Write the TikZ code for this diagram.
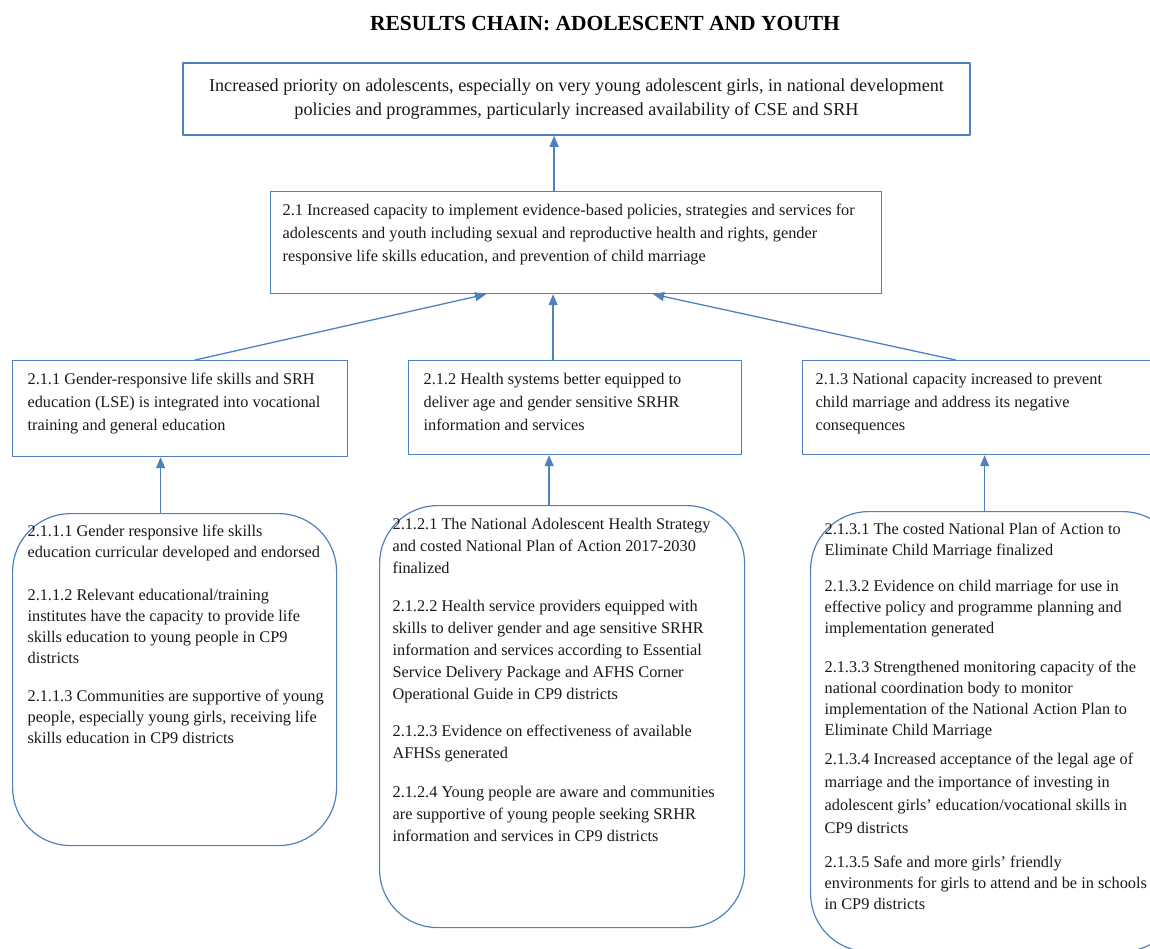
\documentclass[tikz,border=0pt]{standalone}
\usepackage{fontspec}
\setmainfont{Liberation Serif}
\usetikzlibrary{arrows.meta}

\definecolor{boxblue}{RGB}{79,129,189}
\definecolor{txtgray}{RGB}{25,25,25}

% text block of a box: height, width, lines
\newcommand{\tbox}[3]{\parbox[t][#1][t]{#2}{\begin{tabular}[t]{@{}l@{}}#3\end{tabular}}}

\begin{document}
\begin{tikzpicture}[x=1pt, y=-1pt, line cap=round, line join=round, >=Triangle,
	box/.style={draw=boxblue, line width=1.2pt, anchor=north west, inner xsep=15pt, inner ysep=8pt, text=txtgray, font=\fontsize{16.3}{23}\selectfont},
	roundbox/.style={box, rounded corners=58pt},
	arr/.style={draw=boxblue, line width=1.3pt, -{Triangle[width=9pt,length=11pt]}}]

\useasboundingbox (0,0) rectangle (1150,949);
\clip (0,0) rectangle (1150,949);

\node[font=\bfseries\fontsize{21.5}{26}\selectfont] (title) at (605,24) {RESULTS CHAIN: ADOLESCENT AND YOUTH};

\node[draw=boxblue, line width=1.6pt, inner sep=0pt, minimum width=787pt, minimum height=72pt, align=center, text=txtgray, font=\fontsize{18.2}{24}\selectfont] (b0) at (576.5,99)
	{Increased priority on adolescents, especially on very young adolescent girls, in national development\\
	policies and programmes, particularly increased availability of CSE and SRH};

\node[box, inner xsep=12pt] (b21) at (270,191) {\tbox{86pt}{587pt}{%
	2.1 Increased capacity to implement evidence-based policies, strategies and services for\\
	adolescents and youth including sexual and reproductive health and rights, gender\\
	responsive life skills education, and prevention of child marriage}};

\draw[arr] ([xshift=-22pt]b21.north) -- ([xshift=-22pt]b21.north |- b0.south);

%---------------------------------------------------------------------------------------------------
\node[box] (b211) at (12,360) {\tbox{80pt}{305pt}{%
	2.1.1 Gender-responsive life skills and SRH\\
	education (LSE) is integrated into vocational\\
	training and general education}};

\node[box] (b212) at (408,360) {\tbox{78pt}{303pt}{%
	2.1.2 Health systems better equipped to\\
	deliver age and gender sensitive SRHR\\
	information and services}};

\node[box, inner xsep=13pt] (b213) at (802,360) {\tbox{78pt}{334pt}{%
	2.1.3 National capacity increased to prevent\\
	child marriage and address its negative\\
	consequences}};

\draw[arr] ([xshift=15pt]b211.north) -- ([xshift=-90pt]b21.south);
\draw[arr] ([xshift=-22pt]b212.north) -- ([xshift=-22pt]b212.north |- b21.south);
\draw[arr] ([xshift=-27pt]b213.north) -- ([xshift=77pt]b21.south);

%---------------------------------------------------------------------------------------------------
\node[roundbox, font=\fontsize{16.3}{21}\selectfont] (o211) at (12,513) {\tbox{316pt}{294pt}{%
	2.1.1.1 Gender responsive life skills\\
	education curricular developed and endorsed\\[22pt]
	2.1.1.2 Relevant educational/training\\
	institutes have the capacity to provide life\\
	skills education to young people in CP9\\
	districts\\[17pt]
	2.1.1.3 Communities are supportive of young\\
	people, especially young girls, receiving life\\
	skills education in CP9 districts}};

\node[roundbox, inner xsep=13pt, font=\fontsize{16.3}{22}\selectfont] (o212) at (379,505) {\tbox{406pt}{339pt}{%
	2.1.2.1 The National Adolescent Health Strategy\\
	and costed National Plan of Action 2017-2030\\
	finalized\\[16pt]
	2.1.2.2 Health service providers equipped with\\
	skills to deliver gender and age sensitive SRHR\\
	information and services according to Essential\\
	Service Delivery Package and AFHS Corner\\
	Operational Guide in CP9 districts\\[15pt]
	2.1.2.3 Evidence on effectiveness of available\\
	AFHSs generated\\[17pt]
	2.1.2.4 Young people are aware and communities\\
	are supportive of young people seeking SRHR\\
	information and services in CP9 districts}};

\node[roundbox, inner xsep=14pt, font=\fontsize{16.3}{21}\selectfont] (o213) at (810,511) {\tbox{424pt}{342pt}{%
	2.1.3.1 The costed National Plan of Action to\\
	Eliminate Child Marriage finalized\\[15pt]
	2.1.3.2 Evidence on child marriage for use in\\
	effective policy and programme planning and\\
	implementation generated\\[18pt]
	2.1.3.3 Strengthened monitoring capacity of the\\
	national coordination body to monitor\\
	implementation of the National Action Plan to\\
	Eliminate Child Marriage\\[8pt]
	2.1.3.4 Increased acceptance of the legal age of\\[2pt]
	marriage and the importance of investing in\\[2pt]
	adolescent girls' education/vocational skills in\\[2pt]
	CP9 districts\\[13pt]
	2.1.3.5 Safe and more girls' friendly\\
	environments for girls to attend and be in schools\\
	in CP9 districts}};

\draw[arr] ([xshift=-14pt]o211.north) -- ([xshift=-14pt]o211.north |- b211.south);
\draw[arr] ([xshift=-13pt]o212.north) -- ([xshift=-13pt]o212.north |- b212.south);
\draw[arr] ([xshift=-11pt]o213.north) -- ([xshift=-11pt]o213.north |- b213.south);

\end{tikzpicture}
\end{document}
